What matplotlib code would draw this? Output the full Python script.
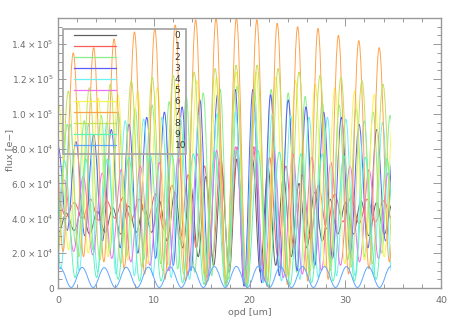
import numpy as np
import matplotlib
matplotlib.use("Agg")
import matplotlib.pyplot as plt
from matplotlib.path import Path
from matplotlib.patches import PathPatch, Rectangle
from matplotlib.lines import Line2D
from matplotlib.ticker import MultipleLocator

# channel names / colours (IDL style)
channels = ['0', '1', '2', '3', '4', '5', '6', '7', '8', '9', '10']
colors = ['#606060', '#ff5c5c', '#88ef88', '#5c5cff', '#6ef0f0', '#f070f0',
          '#f7f550', '#ffa24c', '#c4e05a', '#5cf5b8', '#5ca6ff']

# position of first fringe extremum [um] and distance between extrema [um]
first_x = [-0.75, -0.85, -0.81, -0.898, -0.66, -0.35, -0.95, -0.535, -0.01, -0.455, -0.92]
half_period = [0.81, 0.85, 0.8875, 0.924, 0.96, 0.995, 1.03, 1.065, 1.095, 1.1225, 1.15]
opd_end = 34.8

# fringe extrema (max / min alternating), flux in 1e3 e-
flux0 = [44, 32, 43, 33, 45, 31, 44, 32, 46, 31, 47, 32, 47, 32, 50, 27, 55, 23, 60, 18,
         64, 13, 69, 9, 74, 4, 74, 9, 69, 13, 64, 18, 60, 23, 55, 27, 51, 31, 49, 31,
         50, 30, 49, 31, 48]
flux1 = [40, 50, 41, 49, 40, 51, 39, 50, 40, 52, 39, 51, 39, 54, 34, 59, 28, 65, 23, 70,
         18, 75, 12, 81, 7, 81, 12, 75, 18, 70, 23, 65, 28, 59, 34, 54, 38, 52, 37, 51,
         38, 50, 40]
flux2 = [92, 27, 94, 25, 96, 22, 99, 20, 101, 18, 103, 16, 105, 14, 107, 11, 110, 9, 112, 7,
         114, 5, 116, 2, 116, 5, 114, 7, 112, 9, 110, 11, 107, 14, 105, 16, 103, 18, 101, 20,
         99, 22]
flux3 = [37, 81, 33, 84, 30, 88, 27, 91, 23, 94, 20, 98, 17, 101, 13, 104, 10, 108, 7, 111,
         3, 114, 1, 114, 3, 111, 7, 108, 10, 104, 13, 101, 17, 98, 20, 94, 23, 91, 27, 88]
flux4 = [93, 11, 94, 10, 94, 9, 95, 8, 96, 7, 97, 7, 98, 6, 98, 5, 99, 4, 100, 3,
         101, 3, 101, 3, 100, 4, 99, 5, 98, 6, 98, 7, 97, 7, 96, 8, 95, 9]
flux5 = [23, 62, 21, 64, 19, 66, 17, 68, 15, 70, 13, 72, 10, 75, 8, 77, 6, 79, 4, 81,
         2, 81, 4, 79, 6, 77, 8, 75, 10, 72, 13, 70, 15, 68, 17, 66, 19]
flux6 = [24, 105, 22, 107, 20, 109, 18, 111, 16, 113, 14, 115, 12, 117, 10, 119, 8, 121, 5, 124,
         3, 124, 5, 121, 8, 119, 10, 117, 12, 115, 14, 113, 16, 111, 18, 109]
flux7 = [132, 21, 135, 18, 138, 15, 143, 11, 147, 8, 149, 5, 151, 4, 154, 2, 155, 1, 155, 0.5,
         154, 1, 152, 2, 150, 4, 149, 5, 145, 8, 142, 11, 138, 15, 135]
flux8 = [20, 113, 18, 115, 16, 117, 14, 119, 12, 121, 10, 122, 8, 124, 6, 126, 4, 128, 2, 128,
         4, 126, 6, 124, 8, 122, 10, 121, 12, 119, 14, 117, 16]
flux9 = [7, 73, 6, 74, 6, 74, 5, 75, 4, 76, 4, 77, 3, 77, 2, 78, 1, 79, 1, 79,
         1, 78, 2, 77, 3, 77, 4, 76, 4, 75, 5, 74, 6]
flux10 = [0.3, 11.6, 0.3, 11.8, 0.3, 11.7, 0.3, 11.9, 0.3, 12.0, 0.3, 12.1, 0.3, 12.2, 0.3, 12.3,
          0.3, 12.4, 0.3, 12.5, 0.3, 12.4, 0.3, 12.4, 0.3, 12.3, 0.3, 12.3, 0.3, 12.2, 0.3, 12.3, 0.3]
fluxes = [flux0, flux1, flux2, flux3, flux4, flux5, flux6, flux7, flux8, flux9, flux10]

yticks = [0, 2e4, 4e4, 6e4, 8e4, 1e5, 1.2e5, 1.4e5]
ytick_labels = ['0', r'$2.0\times10^{4}$', r'$4.0\times10^{4}$', r'$6.0\times10^{4}$',
                r'$8.0\times10^{4}$', r'$1.0\times10^{5}$', r'$1.2\times10^{5}$', r'$1.4\times10^{5}$']
xticks = [0, 10, 20, 30, 40]

gray = '#999999'
txt = '#6e6e6e'
plt.rcParams['font.family'] = ['DejaVu Sans']
plt.rcParams['mathtext.fontset'] = 'dejavusans'


def fringe_path(x, y, c=0.3642):
    # smooth curve through the extrema (horizontal tangent at each one)
    verts = [(x[0], y[0])]
    codes = [Path.MOVETO]
    for i in range(len(x) - 1):
        d = x[i + 1] - x[i]
        verts += [(x[i] + c * d, y[i]), (x[i + 1] - c * d, y[i + 1]), (x[i + 1], y[i + 1])]
        codes += [Path.CURVE4] * 3
    return Path(verts, codes)


fig = plt.figure(figsize=(4.58, 3.27), dpi=100)
ax = fig.add_axes([58 / 458, 1 - 288 / 327, 383 / 458, 270 / 327])
ax.set_xlim(0, 40)
ax.set_ylim(0, 1.55e5)

for i, f in enumerate(fluxes):
    y = np.array(f) * 1e3
    x = first_x[i] + half_period[i] * np.arange(len(y))
    p = PathPatch(fringe_path(x, y), fill=False, edgecolor=colors[i], lw=0.7)
    ax.add_patch(p)
    p.set_clip_path(Rectangle((0, 0), opd_end, 1.55e5, transform=ax.transData))

ax.set_xticks(xticks)
ax.set_xticklabels([str(t) for t in xticks])
ax.set_yticks(yticks)
ax.set_yticklabels(ytick_labels)
ax.xaxis.set_minor_locator(MultipleLocator(2))
ax.yaxis.set_minor_locator(MultipleLocator(5e3))
ax.tick_params(which='both', direction='in', top=True, right=True, color=gray,
               labelcolor=txt, width=0.7)
ax.tick_params(which='major', length=5.5)
ax.tick_params(which='minor', length=2.8)
ax.tick_params(axis='x', pad=6, labelsize=6.8)
ax.tick_params(axis='y', pad=3, labelsize=6.5)
for s in ax.spines.values():
    s.set_color(gray)
    s.set_linewidth(1.0)

ax.set_xlabel('opd [um]', color=txt, fontsize=6.8)
ax.set_ylabel('flux [e\u2212]', color=txt, fontsize=6.8)
ax.xaxis.set_label_coords(0.5, -0.075)
ax.yaxis.set_label_coords(-0.115, 0.51)

handles = [Line2D([], [], color=c, lw=0.9) for c in colors]
leg = ax.legend(handles, channels, loc='upper left', bbox_to_anchor=(0.0418, 0.952),
                frameon=False, borderpad=0, borderaxespad=0, fontsize=6.5,
                labelspacing=0.22, handlelength=4.65, handletextpad=6.5)
for t in leg.get_texts():
    t.set_color('#333333')
ax.add_patch(Rectangle((5 / 383, (288 - 154) / 270), 123 / 383, 125 / 270,
                       transform=ax.transAxes, fill=False, edgecolor='#a8a8a8', lw=1.3))

fig.savefig('out.png', dpi=100)
